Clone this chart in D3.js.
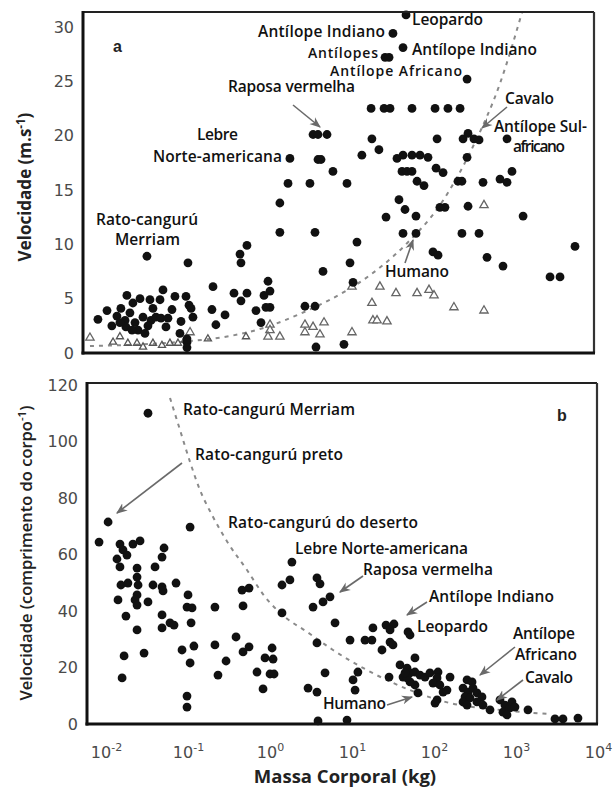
<!DOCTYPE html>
<html><head><meta charset="utf-8">
<script src="https://cdn.jsdelivr.net/npm/d3@7"></script>
<style>body{margin:0;background:#fff} svg{display:block}</style>
</head><body><svg id="c" width="614" height="789"></svg>
<script>
// ---------- DATA ----------
// Panel a : maximum speed (m/s) vs body mass (kg)
const massA = [45.6,31.6,41.9,25.3,28.3,253,17.1,24.6,29.1,53.9,103,148,208,3.35,3.85,4.96,17.5,109,226,260,307,354,777,21.3,13.2,35.4,41.9,53.9,67.5,84.5,253,5.86,40.7,46.9,53.9,106,129,893,8.69,62.1,75.5,196,219,396,638,777,37.4,44.3,26.0,60.3,118,136,260,1220,41.9,60.3,219,354,11.5,97.2,112,443,694,5240,9.46,10.3,2600,3440,7.98,3.64,3.54,4.43,2.67,3.54,1.75,3.85,4.19,1.66,3.07,1.32,1.32,0.0316,0.1,0.524,0.431,0.443,0.946,1.0,0.845,1.0,0.893,0.202,0.364,0.524,0.443,0.675,0.196,0.283,0.219,0.777,0.00798,0.0103,0.0136,0.0152,0.0171,0.0196,0.0213,0.0226,0.026,0.0246,0.0175,0.0148,0.0283,0.0299,0.0374,0.0354,0.0496,0.0456,0.0407,0.0469,0.057,0.0694,0.0946,0.103,0.109,0.115,0.0822,0.0798,0.0972,0.0972,0.0972,0.0118,0.0208,0.0325,0.0539,0.0638,0.0344,0.018];
const speedA = [31.1,29.4,28.1,27.2,27.2,25.2,22.5,22.5,22.5,22.5,22.5,22.5,22.5,20.1,20.1,20.1,19.7,19.7,19.7,20.2,19.7,19.6,19.7,18.7,18.2,17.9,18.2,18.2,18.2,18.0,18.0,16.7,16.7,16.7,16.7,17.0,16.6,16.7,15.6,15.8,15.4,15.8,15.8,15.7,16.0,15.7,14.1,13.2,12.5,12.6,13.4,13.4,13.5,12.6,11.0,11.0,11.0,11.0,10.2,9.3,9.0,8.8,8.0,9.8,8.3,6.5,7.0,7.0,0.8,0.55,11.1,7.5,4.3,4.3,17.9,17.8,17.8,15.6,15.6,13.8,11.1,8.9,8.3,9.9,9.1,8.3,6.6,5.7,5.3,4.2,4.2,6.1,5.5,5.5,4.8,3.9,4.0,3.5,2.6,2.8,3.1,3.9,3.4,4.1,3.0,3.7,4.6,2.8,5.0,2.1,2.4,2.8,3.3,1.8,4.1,3.0,5.8,4.9,3.3,3.2,3.2,5.2,5.2,4.4,4.1,3.3,2.9,1.8,1.3,1.0,0.5,2.5,2.1,2.5,2.4,4.0,4.9,5.3];
// open triangles (second group) in panel a
const triMassA = [407,10.0,21.9,34.4,62.1,86.9,100,17.5,175,407,18.0,20.2,26.7,10.0,4.56,3.35,2.67,2.67,4.07,1.0,1.0,0.946,1.32,0.106,0.00638];
const triSpeedA = [13.6,6.1,6.1,5.5,5.5,5.8,5.3,4.6,4.2,3.9,3.0,3.0,2.9,1.9,2.8,2.4,2.6,1.9,1.7,2.6,2.1,1.5,1.5,1.9,1.4];
// small open marks (third group) in panel a
const crossMassA = [0.0122,0.0148,0.0185,0.0239,0.0283,0.0374,0.0482,0.0603,0.0755,0.0919,0.175,0.51];
const crossSpeedA = [1.0,1.5,0.9,0.9,0.55,0.9,0.7,0.9,0.9,1.2,1.3,1.5];
// dashed trend curve panel a
const curveMassA = [0.00638,0.0344,0.106,0.325,1.0,2.32,5.39,13.6,46.9,118,299,638,1180];
const curveSpeedA = [0.64,0.83,1.1,1.56,2.5,3.6,4.9,6.7,10.1,13.6,19.0,24.8,31.3];

// Panel b : speed in body lengths per second vs body mass (kg)
const massB = [0.0325,0.0106,0.106,0.00822,0.0148,0.0161,0.018,0.0136,0.0148,0.0213,0.026,0.051,0.0482,0.0396,0.0239,0.0239,0.0152,0.0185,0.0246,0.0239,0.0226,0.0239,0.014,0.0325,0.0374,0.0482,0.0496,0.0714,0.0175,0.0239,0.0482,0.0482,0.0603,0.0675,0.1,0.0972,0.112,0.109,0.213,0.469,0.456,0.555,1.40,1.75,1.85,3.74,4.07,1.40,3.35,4.43,5.39,6.21,0.0166,0.0291,0.0157,0.0845,0.118,0.106,0.213,0.385,0.469,0.555,0.291,0.232,0.694,0.869,1.06,1.09,1.0,1.12,0.822,0.0972,0.0972,3.74,4.69,2.91,3.74,3.85,8.69,9.46,14.4,17.5,23.2,29.1,31.6,18.0,26.0,32.5,29.1,48.2,51.0,11.8,10.3,10.9,28.3,58.6,38.5,46.9,41.9,51.0,58.6,67.5,77.7,89.3,112,109,97.2,118,157,129,58.6,63.8,51.0,46.9,44.3,109,103,144,253,291,226,260,299,239,275,334,385,334,396,226,253,482,638,733,845,694,893,972,777,1400,2990,3740,5700];
const speedB = [110,71.5,69.7,64.4,63.7,61.6,59.8,58.4,55.6,63.7,64.8,62.3,59.1,55.6,55.2,52.0,49.2,49.9,49.2,45.7,43.9,42.1,43.9,43.2,49.2,48.5,47.1,49.9,38.2,33.3,38.6,34.0,35.8,35.0,45.7,41.4,41.1,35.8,41.4,41.8,47.4,48.1,49.2,51.0,57.3,51.7,49.6,39.3,41.4,43.2,45.0,35.8,24.1,25.1,16.3,26.2,27.6,21.6,28.0,30.8,25.5,27.3,22.3,17.3,18.4,23.4,26.9,23.0,17.7,17.7,12.4,9.9,6.0,28.7,18.1,12.7,11.3,1.1,1.4,29.7,29.7,29.7,26.2,29.0,28.0,34.0,35.0,35.4,33.3,32.6,31.5,18.4,15.6,12.0,16.6,23.4,20.9,19.8,16.6,18.1,18.4,17.3,16.6,18.1,18.4,16.3,14.5,13.8,16.6,11.3,13.8,11.0,14.9,16.3,18.1,8.5,7.4,12.0,15.6,14.9,12.7,11.3,12.7,9.6,9.2,11.0,9.6,7.8,6.7,7.8,6.7,5.0,8.5,6.7,5.7,4.2,7.8,6.0,3.2,5.0,1.8,1.8,2.1];
const curveMassB = [0.0603,0.0798,0.106,0.14,0.196,0.307,0.524,0.869,1.52,2.83,5.86,15.2,51,157,638,2600];
const curveSpeedB = [115.4,104.1,92.7,82.8,74.0,64.1,54.5,45.0,37.9,32.6,26.2,19.1,12.0,7.4,5.0,3.5];

// tick labels
const yTicksA = [0,5,10,15,20,25,30];
const yTicksB = [0,20,40,60,80,100,120];
const xTickExp = ["-2","-1","0","1","2","3","4"];
const xTickVals = [0.01,0.1,1,10,100,1000,10000];

// annotation texts (layout: x, baseline y, width, optional size)
const labelsA = [
  {t:"Antílope Indiano", x:258, y:37, w:127},
  {t:"Leopardo", x:412, y:25, w:71},
  {t:"Antílopes", x:308, y:58, w:70, s:14},
  {t:"Antílope Indiano", x:412, y:55, w:125},
  {t:"Antílope Africano", x:330, y:76, w:132, s:14},
  {t:"Raposa vermelha", x:228, y:92, w:127},
  {t:"Lebre", x:197, y:140, w:41},
  {t:"Norte-americana", x:153, y:162, w:129},
  {t:"Cavalo", x:505, y:104, w:49},
  {t:"Antílope Sul-", x:494, y:132, w:93},
  {t:"africano", x:513, y:152, w:52},
  {t:"Rato-cangurú", x:96, y:225, w:102},
  {t:"Merriam", x:115, y:245, w:65},
  {t:"Humano", x:385, y:277, w:64}
];
const arrowsA = [[293,105,320,127],[507,107,482,128],[405,263,413,240]];
const labelsB = [
  {t:"Rato-cangurú Merriam", x:183, y:415, w:172},
  {t:"Rato-cangurú preto", x:195, y:460, w:148},
  {t:"Rato-cangurú do deserto", x:228, y:528, w:190},
  {t:"Lebre Norte-americana", x:295, y:554, w:173},
  {t:"Raposa vermelha", x:363, y:575, w:130},
  {t:"Antílope Indiano", x:429, y:602, w:125},
  {t:"Leopardo", x:417, y:632, w:71},
  {t:"Antílope", x:513, y:639, w:62},
  {t:"Africano", x:515, y:660, w:62},
  {t:"Cavalo", x:525, y:683, w:48},
  {t:"Humano", x:323, y:709, w:63}
];
const arrowsB = [[182,463,117,513],[363,576,340,592],[427,602,407,615],[515,647,480,675],[523,680,497,700],[387,705,412,697]];

// ---------- LAYOUT ----------
const svg = d3.select("#c");
const P = 10;
const A = {l:83, r:594, t:12, b:353, xlo:-2.28, xhi:3.951, ymax:31.37};
const B = {l:87, r:597, t:383, b:724, xlo:-2.232, xhi:3.988, ymax:120.7};

const xA = d3.scaleLog().domain([Math.pow(P,A.xlo), Math.pow(P,A.xhi)]).range([A.l, A.r]);
const yA = d3.scaleLinear().domain([0, A.ymax]).range([A.b, A.t]);
const xB = d3.scaleLog().domain([Math.pow(P,B.xlo), Math.pow(P,B.xhi)]).range([B.l, B.r]);
const yB = d3.scaleLinear().domain([0, B.ymax]).range([B.b, B.t]);

const defs = svg.append("defs");
defs.append("marker").attr("id","ah").attr("viewBox","0 0 10 10").attr("refX",9).attr("refY",5)
  .attr("markerWidth",7).attr("markerHeight",7).attr("orient","auto-start-reverse")
  .append("path").attr("d","M0,1 L10,5 L0,9 L3,5 Z").attr("fill","#6a6a6a");

const tickFont = "'DejaVu Sans', sans-serif";
const lblFont = "'Open Sans', 'Noto Sans', sans-serif";

function panel(cfg, x, y, yTicks, curveM, curveS, dots, tris, crosses, labels, arrows, letter, letterPos){
  const g = svg.append("g");
  const line = d3.line().x(d=>x(d[0])).y(d=>y(d[1])).curve(d3.curveMonotoneX);
  g.append("path").datum(d3.zip(curveM, curveS)).attr("d", line)
    .attr("fill","none").attr("stroke","#8a8a8a").attr("stroke-width",2).attr("stroke-dasharray","4 5");
  if (tris) {
    g.selectAll(".tri").data(tris).join("path")
      .attr("transform", d=>`translate(${x(d[0])},${y(d[1])})`)
      .attr("d", d3.symbol(d3.symbolTriangle, 30))
      .attr("fill","#fff").attr("stroke","#666").attr("stroke-width",1.3);
  }
  if (crosses) {
    g.selectAll(".crs").data(crosses).join("path")
      .attr("transform", d=>`translate(${x(d[0])},${y(d[1])})`)
      .attr("d", d3.symbol(d3.symbolTriangle, 22))
      .attr("fill","none").attr("stroke","#555").attr("stroke-width",1.3);
  }
  g.selectAll(".dot").data(dots).join("circle")
    .attr("cx", d=>x(d[0])).attr("cy", d=>y(d[1])).attr("r",4.4).attr("fill","#111");
  // frame
  g.append("line").attr("x1",cfg.l).attr("x2",cfg.r).attr("y1",cfg.t).attr("y2",cfg.t).attr("stroke","#222").attr("stroke-width",2.2);
  g.append("line").attr("x1",cfg.r).attr("x2",cfg.r).attr("y1",cfg.t).attr("y2",cfg.b).attr("stroke","#333").attr("stroke-width",2.2);
  g.append("line").attr("x1",cfg.l).attr("x2",cfg.l).attr("y1",cfg.t-1).attr("y2",cfg.b+1.5).attr("stroke","#111").attr("stroke-width",3);
  g.append("line").attr("x1",cfg.l-1.5).attr("x2",cfg.r+1).attr("y1",cfg.b).attr("y2",cfg.b).attr("stroke","#111").attr("stroke-width",3.2);
  // y axis
  const ay = g.append("g").attr("transform",`translate(${cfg.l - 9},0)`)
    .call(d3.axisLeft(y).tickValues(yTicks).tickSize(0).tickPadding(0));
  ay.select(".domain").remove();
  ay.selectAll("text").attr("font-family",tickFont).attr("font-size",16).attr("fill","#4a4a4a");
  // labels
  g.selectAll(".lbl").data(labels).join("text")
    .attr("x",d=>d.x).attr("y",d=>d.y)
    .attr("textLength",d=>d.w).attr("lengthAdjust","spacing")
    .attr("font-family",lblFont).attr("font-size",d=>d.s||15.5).attr("font-weight",600).attr("fill","#111")
    .text(d=>d.t);
  g.selectAll(".arr").data(arrows).join("line")
    .attr("x1",d=>d[0]).attr("y1",d=>d[1]).attr("x2",d=>d[2]).attr("y2",d=>d[3])
    .attr("stroke","#6a6a6a").attr("stroke-width",1.6).attr("marker-end","url(#ah)");
  g.append("text").attr("x",letterPos[0]).attr("y",letterPos[1])
    .attr("font-family","'Liberation Sans', Arial, sans-serif").attr("font-weight","bold").attr("font-size",16).attr("fill","#222")
    .text(letter);
  return g;
}

panel(A, xA, yA, yTicksA, curveMassA, curveSpeedA,
  d3.zip(massA, speedA), d3.zip(triMassA, triSpeedA), d3.zip(crossMassA, crossSpeedA),
  labelsA, arrowsA, "a", [113,52]);
panel(B, xB, yB, yTicksB, curveMassB, curveSpeedB,
  d3.zip(massB, speedB), null, null,
  labelsB, arrowsB, "b", [557,421]);

// x axis (bottom panel only)
const ax = svg.append("g").attr("transform",`translate(0,${B.b + 20})`)
  .call(d3.axisBottom(xB).tickValues(xTickVals).tickSize(0).tickFormat(""));
ax.select(".domain").remove();
ax.selectAll(".tick text").each(function(d,i){
  const t = d3.select(this).attr("font-family",tickFont).attr("font-size",16).attr("fill","#4a4a4a")
    .attr("text-anchor","middle").attr("dy","0.71em");
  t.append("tspan").text("10");
  t.append("tspan").attr("font-size",11).attr("dy",-7).text(xTickExp[i]);
});

// axis titles
svg.append("text").attr("transform","translate(31,187) rotate(-90)").attr("text-anchor","middle")
  .attr("font-family",lblFont).attr("font-weight","bold").attr("font-size",17).attr("fill","#222")
  .call(t=>{t.append("tspan").text("Velocidade (m.s");t.append("tspan").attr("font-size",11.5).attr("dy",-6).text("-1");t.append("tspan").attr("dy",6).text(")");});
svg.append("text").attr("transform","translate(32,553) rotate(-90)").attr("text-anchor","middle")
  .attr("font-family",lblFont).attr("font-weight",600).attr("font-size",16.5).attr("fill","#222")
  .call(t=>{t.append("tspan").text("Velocidade (comprimento do corpo");t.append("tspan").attr("font-size",11.5).attr("dy",-6).text("-1");t.append("tspan").attr("dy",6).text(")");});
svg.append("text").attr("x",345).attr("y",783).attr("text-anchor","middle")
  .attr("font-family",lblFont).attr("font-weight","bold").attr("font-size",18.5).attr("fill","#222")
  .text("Massa Corporal (kg)");
</script></body></html>
